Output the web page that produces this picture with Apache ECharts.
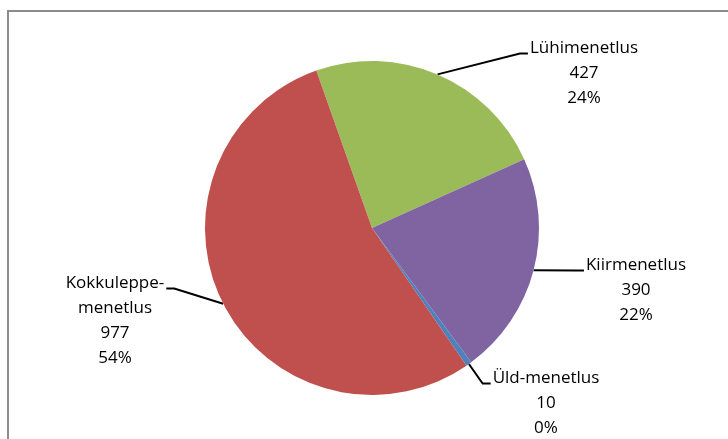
<!DOCTYPE html>
<html>
<head>
<meta charset="utf-8">
<script src="https://cdn.jsdelivr.net/npm/echarts@6/dist/echarts.min.js"></script>
<style>
  html, body { margin: 0; padding: 0; background: #fff; }
  #chart { width: 728px; height: 439px; }
</style>
</head>
<body>
<div id="chart"></div>
<script>
// menetluse liigid ja arvud
const categories = ['Lühimenetlus', 'Kiirmenetlus', 'Üld-menetlus', 'Kokkuleppe-\nmenetlus']
const values = [427, 390, 10, 977]
const colors = ['#9BBB59', '#8064A2', '#4F81BD', '#C0504D']

// sildi asukohad (keskpunkt x, ülaserv y)
const labelPos = [[584, 36], [636, 253], [546, 366], [115, 271]]
const lineH = 25

const chart = echarts.init(document.getElementById('chart'))
const pieData = categories.map((name, i) => ({
  name: name,
  value: values[i],
  itemStyle: { color: colors[i] }
}))

chart.setOption({
  animation: false,
  graphic: [{
    type: 'rect',
    shape: { x: 8, y: 11, width: 800, height: 500 },
    style: { fill: 'none', stroke: '#8c8c8c', lineWidth: 2 },
    silent: true
  }],
  series: [{
    type: 'pie',
    center: [372, 228],
    radius: 167,
    startAngle: 109.5,
    clockwise: true,
    percentPrecision: 0,
    data: pieData,
    itemStyle: { borderWidth: 0 },
    emphasis: { disabled: true },
    label: {
      show: true,
      position: 'outside',
      formatter: '{b}\n{c}\n{d}%',
      fontFamily: 'Open Sans',
      fontSize: 17,
      lineHeight: lineH,
      color: '#000',
      align: 'center'
    },
    labelLine: {
      show: true,
      length: 10,
      length2: 10,
      lineStyle: { color: '#000', width: 2 }
    },
    labelLayout: function (params) {
      const p = labelPos[params.dataIndex]
      const w = params.labelRect.width
      const y1 = p[1] + lineH / 2 + 5
      const start = params.labelLinePoints[0]
      const isLeft = p[0] < 372
      const edge = isLeft ? p[0] + w / 2 + 2 : p[0] - w / 2 - 2
      const elbow = isLeft ? edge + 8 : edge - 8
      return {
        x: p[0],
        y: p[1],
        align: 'center',
        verticalAlign: 'top',
        labelLinePoints: [start, [elbow, y1], [edge, y1]]
      }
    }
  }]
})
</script>
</body>
</html>
